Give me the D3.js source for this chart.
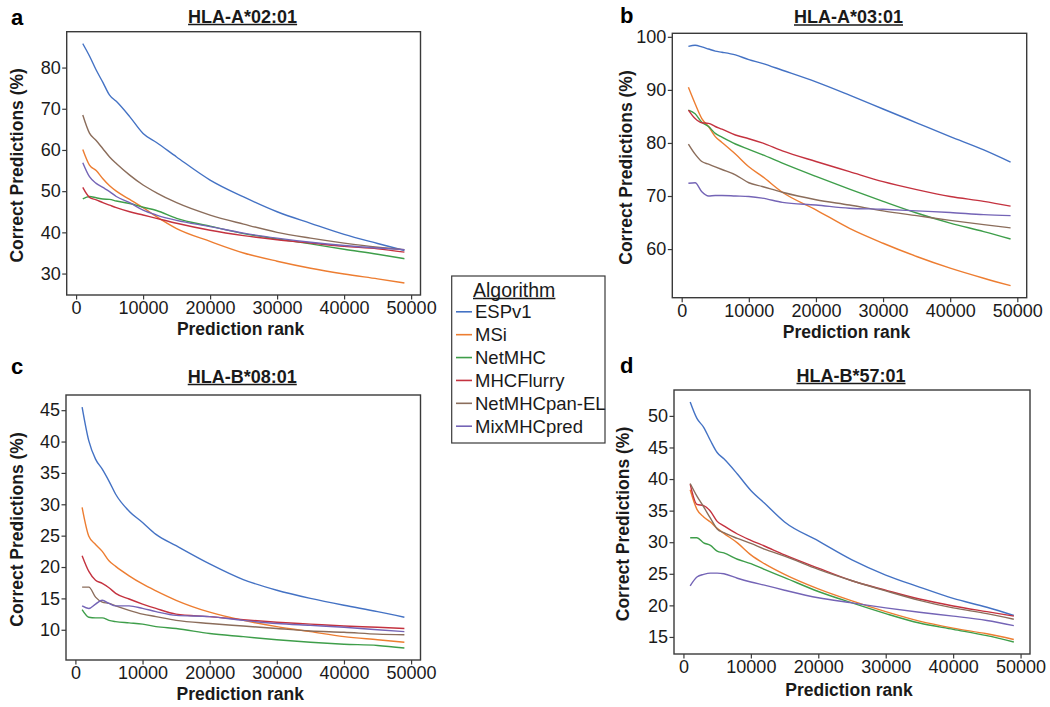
<!DOCTYPE html>
<html>
<head>
<meta charset="utf-8">
<script src="https://cdn.jsdelivr.net/npm/d3@7"></script>
<style>
  html, body { margin: 0; padding: 0; background: #ffffff; }
  svg { display: block; font-family: "Liberation Sans", Arial, Helvetica, sans-serif; }
</style>
</head>
<body>
<svg id="chart" width="1050" height="707"></svg>
<script>
// ---------- data ----------
const ranks = [1000, 2000, 3000, 4000, 5000, 6000, 8000, 10000, 12000, 15000, 20000, 25000, 30000, 35000, 40000, 45000, 49000];
const algorithms = ["ESPv1", "MSi", "NetMHC", "MHCFlurry", "NetMHCpan-EL", "MixMHCpred"];
const algoColors = ["#4472C4", "#ED7D31", "#3E9E4A", "#C4323F", "#8B6D5B", "#7464B6"];
const panelLetters = ["a", "b", "c", "d"];
const alleles = ["HLA-A*02:01", "HLA-A*03:01", "HLA-B*08:01", "HLA-B*57:01"];
const xTicks = [0, 10000, 20000, 30000, 40000, 50000];
const yTicksA = [30, 40, 50, 60, 70, 80];
const yTicksB = [60, 70, 80, 90, 100];
const yTicksC = [10, 15, 20, 25, 30, 35, 40, 45];
const yTicksD = [15, 20, 25, 30, 35, 40, 45, 50];

// Panel a: HLA-A*02:01
const a_ESPv1       = [85.8, 82.8, 79.4, 76.4, 73.3, 71.8, 68.1, 64.0, 61.8, 58.3, 52.7, 48.6, 45.0, 42.2, 39.5, 37.3, 35.6];
const a_MSi         = [60.1, 56.3, 55.0, 53.0, 51.3, 50.0, 48.0, 46.0, 43.8, 40.9, 37.8, 35.0, 33.0, 31.3, 29.9, 28.7, 27.7];
const a_NetMHC      = [48.1, 48.7, 48.4, 48.1, 48.0, 47.6, 47.0, 46.1, 45.3, 43.4, 41.5, 39.7, 38.4, 37.2, 35.9, 34.7, 33.6];
const a_MHCFlurry   = [50.9, 48.5, 47.9, 47.2, 46.6, 46.0, 45.0, 44.2, 43.4, 42.2, 40.5, 39.2, 38.2, 37.4, 36.6, 36.0, 35.2];
const a_NetMHCpanEL = [68.5, 64.1, 62.3, 60.3, 58.3, 56.7, 53.9, 51.5, 49.6, 47.2, 44.2, 42.0, 40.0, 38.6, 37.4, 36.4, 35.8];
const a_MixMHCpred  = [56.9, 53.5, 51.9, 50.9, 49.9, 48.7, 47.2, 45.4, 44.2, 42.9, 41.4, 39.8, 38.6, 37.6, 36.8, 36.2, 35.8];

// Panel b: HLA-A*03:01
const b_ESPv1       = [98.2, 98.4, 98.1, 97.7, 97.3, 97.1, 96.6, 95.7, 95.0, 93.7, 91.5, 89.0, 86.4, 83.8, 81.2, 78.7, 76.4];
const b_MSi         = [90.5, 87.4, 84.6, 83.1, 81.2, 80.1, 77.9, 75.5, 73.7, 70.7, 67.4, 63.9, 61.1, 58.6, 56.4, 54.5, 53.1];
const b_NetMHC      = [86.2, 85.5, 83.9, 83.1, 81.8, 81.1, 79.8, 78.8, 77.8, 76.2, 73.7, 71.3, 69.0, 66.8, 64.9, 63.3, 61.9];
const b_MHCFlurry   = [86.2, 84.6, 83.8, 83.7, 83.1, 82.6, 81.5, 80.8, 80.0, 78.5, 76.5, 74.6, 72.7, 71.2, 69.9, 69.0, 68.1];
const b_NetMHCpanEL = [79.8, 77.9, 76.5, 76.0, 75.5, 75.0, 74.0, 72.5, 71.8, 70.7, 69.3, 68.3, 67.2, 66.3, 65.4, 64.6, 64.0];
const b_MixMHCpred  = [72.4, 72.5, 70.8, 70.0, 70.1, 70.1, 70.0, 69.9, 69.6, 68.8, 68.3, 67.7, 67.5, 67.2, 66.9, 66.5, 66.3];

// Panel c: HLA-B*08:01
const c_ESPv1       = [45.5, 40.1, 37.2, 35.6, 33.7, 31.6, 28.9, 27.1, 25.2, 23.4, 20.5, 18.0, 16.3, 15.0, 13.9, 12.9, 12.0];
const c_MSi         = [29.5, 24.9, 23.6, 22.5, 21.0, 20.1, 18.6, 17.3, 16.2, 14.7, 12.8, 11.5, 10.5, 9.7, 8.9, 8.4, 8.0];
const c_NetMHC      = [13.2, 12.0, 11.9, 11.9, 11.5, 11.3, 11.1, 10.9, 10.5, 10.2, 9.4, 8.9, 8.4, 8.0, 7.7, 7.5, 7.1];
const c_MHCFlurry   = [21.8, 19.3, 17.9, 17.4, 16.7, 15.8, 14.9, 14.1, 13.4, 12.5, 12.1, 11.6, 11.2, 10.9, 10.6, 10.4, 10.2];
const c_NetMHCpanEL = [16.8, 16.8, 15.2, 14.4, 14.2, 13.8, 13.1, 12.5, 12.1, 11.5, 11.0, 10.6, 10.2, 9.8, 9.6, 9.3, 9.2];
const c_MixMHCpred  = [13.8, 13.4, 14.1, 14.7, 14.2, 13.8, 13.8, 13.4, 12.9, 12.3, 12.1, 11.5, 11.0, 10.7, 10.4, 10.0, 9.7];

// Panel d: HLA-B*57:01
const d_ESPv1       = [52.2, 49.6, 48.2, 46.1, 44.2, 43.2, 40.8, 38.2, 36.2, 33.2, 30.2, 27.2, 24.8, 22.9, 21.1, 19.7, 18.4];
const d_MSi         = [38.3, 35.2, 34.0, 33.2, 32.2, 31.4, 29.9, 28.0, 26.6, 24.9, 22.6, 20.7, 19.0, 17.5, 16.4, 15.5, 14.6];
const d_NetMHC      = [30.7, 30.7, 29.9, 29.5, 28.6, 28.3, 27.3, 26.6, 25.7, 24.4, 22.2, 20.4, 18.7, 17.2, 16.2, 15.2, 14.2];
const d_MHCFlurry   = [39.2, 36.0, 35.8, 34.9, 33.3, 32.6, 31.3, 30.3, 29.4, 28.0, 25.9, 23.9, 22.4, 21.0, 19.9, 19.0, 18.3];
const d_NetMHCpanEL = [39.3, 37.3, 35.6, 33.8, 32.1, 31.5, 30.6, 29.8, 28.9, 27.8, 25.7, 23.9, 22.3, 20.8, 19.6, 18.7, 17.8];
const d_MixMHCpred  = [23.1, 24.5, 24.9, 25.1, 25.1, 25.0, 24.3, 23.7, 23.2, 22.4, 21.2, 20.4, 19.6, 18.9, 18.3, 17.6, 16.8];

// ---------- assemble ----------
const panelSeries = [
  [a_ESPv1, a_MSi, a_NetMHC, a_MHCFlurry, a_NetMHCpanEL, a_MixMHCpred],
  [b_ESPv1, b_MSi, b_NetMHC, b_MHCFlurry, b_NetMHCpanEL, b_MixMHCpred],
  [c_ESPv1, c_MSi, c_NetMHC, c_MHCFlurry, c_NetMHCpanEL, c_MixMHCpred],
  [d_ESPv1, d_MSi, d_NetMHC, d_MHCFlurry, d_NetMHCpanEL, d_MixMHCpred]
];
const panelYTicks = [yTicksA, yTicksB, yTicksC, yTicksD];

// layout (plot frames in pixels)
const frames = [
  { l: 66.7, t: 31.7, r: 420.5, b: 295,   titleY: 22.5, letterX: 11, letterY: 25,  yLabX: 22.5, xLabY: 334.5 },
  { l: 672.3, t: 33.3, r: 1026.7, b: 297.7, titleY: 23, letterX: 620, letterY: 23, yLabX: 632, xLabY: 337.5 },
  { l: 66,   t: 395,  r: 420.5, b: 660,   titleY: 382.5, letterX: 11, letterY: 374, yLabX: 22.5, xLabY: 699.5 },
  { l: 674,  t: 390,  r: 1030,  b: 654,   titleY: 381.5, letterX: 620, letterY: 373.3, yLabX: 629, xLabY: 696 }
];

const svg = d3.select("#chart");
const ink = "#1a1a1a";
const frameColor = "#3a3a3a";

function expand(ext, f) {
  const span = ext[1] - ext[0];
  return [ext[0] - span * f, ext[1] + span * f];
}

frames.forEach((fr, i) => {
  const series = panelSeries[i];
  const allVals = series.flat();
  const x = d3.scaleLinear().domain(expand(d3.extent(ranks), 0.05)).range([fr.l, fr.r]);
  const y = d3.scaleLinear().domain(expand(d3.extent(allVals), 0.05)).range([fr.b, fr.t]);

  const g = svg.append("g");

  // lines
  const line = d3.line().x((d, k) => x(ranks[k])).y(d => y(d)).curve(d3.curveMonotoneX);
  series.forEach((vals, s) => {
    g.append("path")
      .attr("d", line(vals))
      .attr("fill", "none")
      .attr("stroke", algoColors[s])
      .attr("stroke-width", 1.4)
      .attr("stroke-linejoin", "round");
  });

  // frame
  g.append("rect")
    .attr("x", fr.l).attr("y", fr.t)
    .attr("width", fr.r - fr.l).attr("height", fr.b - fr.t)
    .attr("fill", "none").attr("stroke", frameColor).attr("stroke-width", 1.4);

  // axes
  const xAxis = d3.axisBottom(x).tickValues(xTicks).tickFormat(d3.format("d")).tickSizeOuter(0).tickSizeInner(4.5).tickPadding(2);
  const gx = g.append("g").attr("transform", `translate(0,${fr.b})`).call(xAxis);
  gx.select(".domain").remove();
  gx.selectAll("line").attr("stroke", frameColor).attr("stroke-width", 1.2);
  gx.selectAll("text").attr("fill", ink).style("font-size", "18px").style("font-family", "Liberation Sans, Arial, sans-serif");

  const yAxis = d3.axisLeft(y).tickValues(panelYTicks[i]).tickSizeOuter(0).tickSizeInner(4.5).tickPadding(1.5);
  const gy = g.append("g").attr("transform", `translate(${fr.l},0)`).call(yAxis);
  gy.select(".domain").remove();
  gy.selectAll("line").attr("stroke", frameColor).attr("stroke-width", 1.2);
  gy.selectAll("text").attr("fill", ink).style("font-size", "18px").style("font-family", "Liberation Sans, Arial, sans-serif");

  // axis titles
  g.append("text")
    .attr("x", (fr.l + fr.r) / 2 - 3).attr("y", fr.xLabY)
    .attr("text-anchor", "middle")
    .attr("fill", ink)
    .style("font-size", "17.5px").style("font-weight", "bold")
    .text("Prediction rank");

  g.append("text")
    .attr("transform", `translate(${fr.yLabX},${(fr.t + fr.b) / 2 + 2}) rotate(-90)`)
    .attr("text-anchor", "middle")
    .attr("fill", ink)
    .style("font-size", "17.5px").style("font-weight", "bold")
    .text("Correct Predictions (%)");

  // title with underline
  const cx = (fr.l + fr.r) / 2 - 1;
  const t = g.append("text")
    .attr("x", cx).attr("y", fr.titleY)
    .attr("text-anchor", "middle")
    .attr("fill", ink)
    .style("font-size", "18px").style("font-weight", "bold")
    .text(alleles[i]);
  const tw = t.node().getComputedTextLength();
  g.append("line")
    .attr("x1", cx - tw / 2).attr("x2", cx + tw / 2)
    .attr("y1", fr.titleY + 2).attr("y2", fr.titleY + 2)
    .attr("stroke", ink).attr("stroke-width", 1.3);

  // panel letter
  g.append("text")
    .attr("x", fr.letterX).attr("y", fr.letterY)
    .attr("fill", "#000")
    .style("font-size", "22px").style("font-weight", "bold")
    .text(panelLetters[i]);
});

// ---------- legend ----------
const lg = svg.append("g");
lg.append("rect")
  .attr("x", 451.7).attr("y", 276)
  .attr("width", 605 - 451.7).attr("height", 443 - 276)
  .attr("fill", "#fff").attr("stroke", frameColor).attr("stroke-width", 1.2);

const lt = lg.append("text")
  .attr("x", 473).attr("y", 296.5)
  .attr("fill", ink)
  .style("font-size", "19.5px")
  .text("Algorithm");
const ltw = lt.node().getComputedTextLength();
lg.append("line")
  .attr("x1", 473).attr("x2", 473 + ltw)
  .attr("y1", 298.5).attr("y2", 298.5)
  .attr("stroke", ink).attr("stroke-width", 1.3);

algorithms.forEach((name, k) => {
  const by = 318.3 + k * 22.88;
  lg.append("line")
    .attr("x1", 456).attr("x2", 472)
    .attr("y1", by - 6.5).attr("y2", by - 6.5)
    .attr("stroke", algoColors[k]).attr("stroke-width", 1.6);
  lg.append("text")
    .attr("x", 475).attr("y", by)
    .attr("fill", ink)
    .style("font-size", "18.5px")
    .text(name);
});
</script>
</body>
</html>
